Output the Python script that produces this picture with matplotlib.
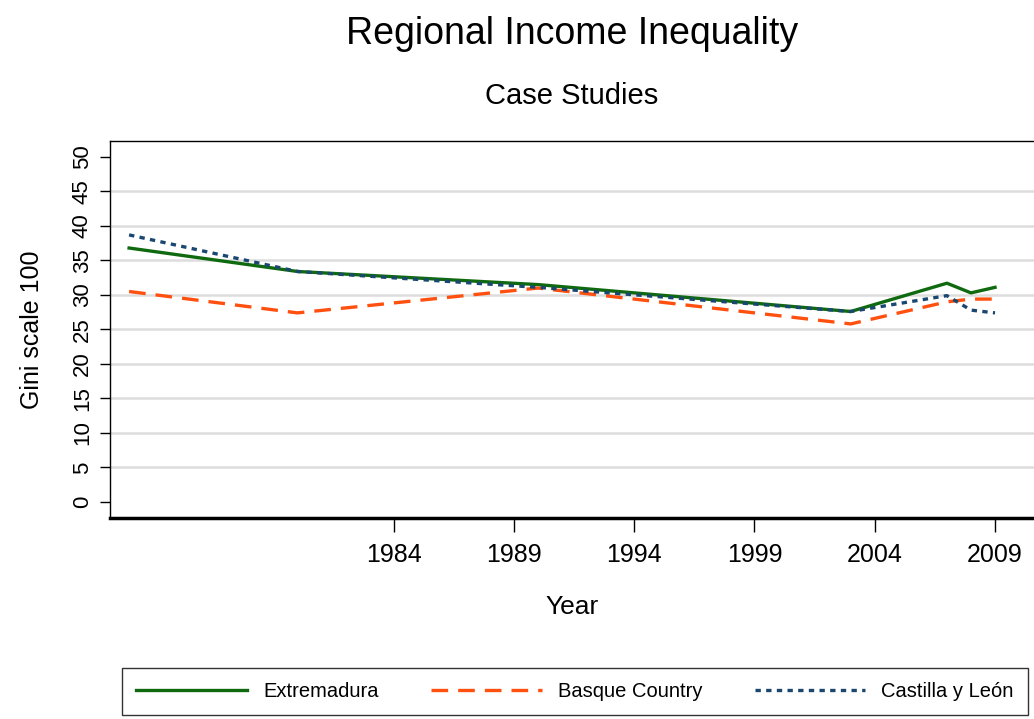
import matplotlib.pyplot as plt

plt.rcParams['font.family'] = ['Liberation Sans', 'DejaVu Sans']

# data
years = [1973, 1980, 1990, 2003, 2007, 2008, 2009]
extremadura = [36.8, 33.4, 31.5, 27.6, 31.7, 30.3, 31.1]
basque = [30.5, 27.4, 31.0, 25.8, 29.0, 29.4, 29.4]
castilla = [38.7, 33.4, 31.1, 27.6, 29.9, 27.8, 27.4]

xticks = [1984, 1989, 1994, 1999, 2004, 2009]
yticks = list(range(0, 51, 5))

fig = plt.figure(figsize=(10.34, 7.19), dpi=100)
ax = fig.add_axes([0.106, 0.2796, 0.894, 0.5244])

ax.plot(years, extremadura, color='#0f6a0f', lw=2.4, label='Extremadura')
ax.plot(years, basque, color='#ff5010', lw=2.4, dashes=(5, 3), label='Basque Country')
ax.plot(years, castilla, color='#1a4770', lw=2.4, dashes=(1.6, 1.6), label='Castilla y León')

ax.set_xlim(1972.19, 2010.62)
ax.set_ylim(-2.32, 52.32)
ax.set_xticks(xticks)
ax.set_yticks(yticks)
ax.tick_params(axis='x', labelsize=18, length=10, width=1, pad=8)
ax.tick_params(axis='y', labelsize=16, length=7, width=1, pad=5)
for lbl in ax.get_yticklabels():
    lbl.set_rotation(90)
    lbl.set_va('center')

# horizontal grid, not on the first and last tick
ax.grid(axis='y', color='#dddddd', lw=1.8)
ax.set_axisbelow(True)
gl = ax.yaxis.get_gridlines()
gl[0].set_visible(False)
gl[-1].set_visible(False)

ax.spines['bottom'].set_linewidth(2.5)
ax.spines['left'].set_linewidth(1.0)
ax.spines['top'].set_linewidth(1.0)
ax.spines['right'].set_visible(False)

ax.set_xlabel('Year', fontsize=19, labelpad=20)
ax.set_ylabel('Gini scale 100', fontsize=18, labelpad=20)

fig.text(0.553, 0.953, 'Regional Income Inequality', fontsize=27, ha='center', va='center')
fig.text(0.553, 0.867, 'Case Studies', fontsize=21, ha='center', va='center')

leg = ax.legend(loc='lower center', bbox_to_anchor=(0.556, -0.009), bbox_transform=fig.transFigure,
                ncol=3, fontsize=14.5, handlelength=5.5, columnspacing=2.6,
                frameon=True, fancybox=False, edgecolor='black', borderpad=0.7)
leg.get_frame().set_linewidth(1.0)

fig.savefig('out.png', dpi=100)
